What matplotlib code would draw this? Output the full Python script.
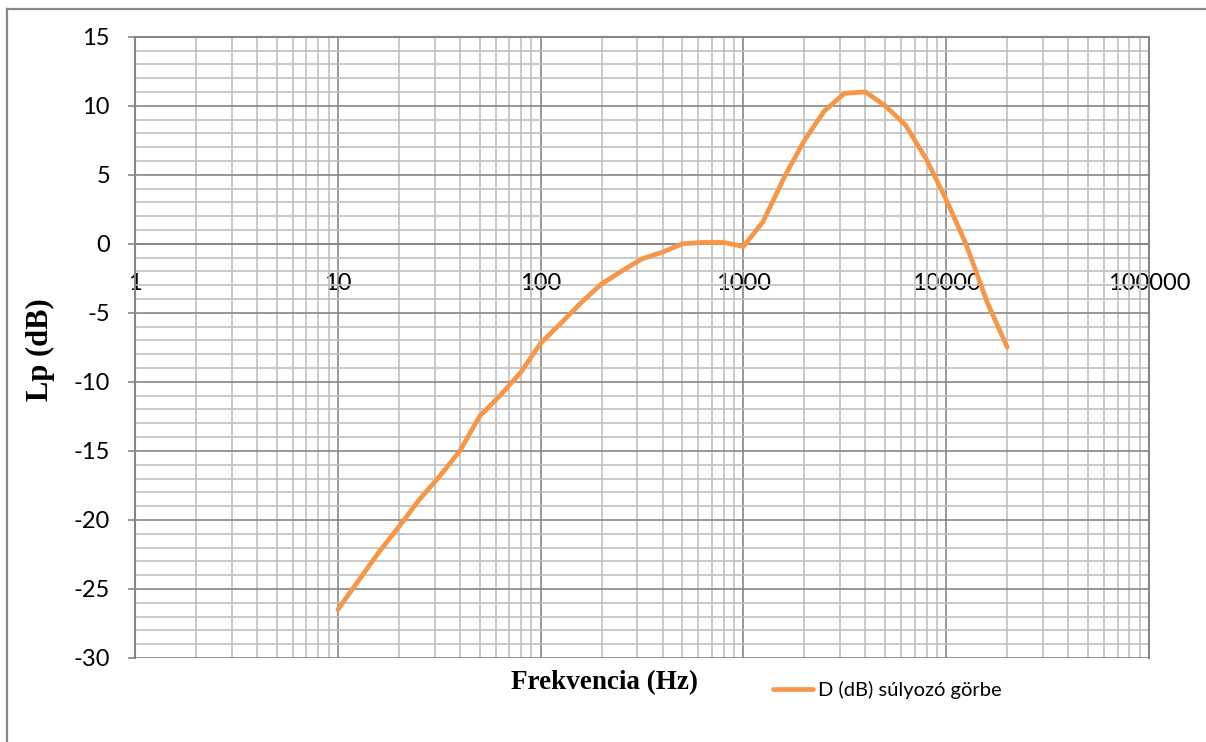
#!/usr/bin/env python3
import matplotlib
matplotlib.use("Agg")
import matplotlib.pyplot as plt
from matplotlib.lines import Line2D
from matplotlib.ticker import LogLocator, MultipleLocator, NullFormatter

# third-octave frequencies (Hz) and D weighting (dB)
freq = [10, 12.5, 16, 20, 25, 31.5, 40, 50, 63, 80, 100, 125, 160, 200, 250,
        315, 400, 500, 630, 800, 1000, 1250, 1600, 2000, 2500, 3150, 4000,
        5000, 6300, 8000, 10000, 12500, 16000, 20000]
d_weight = [-26.5, -24.5, -22.3, -20.5, -18.6, -16.9, -15.0, -12.5, -11.0,
            -9.3, -7.2, -5.8, -4.2, -2.9, -2.0, -1.1, -0.6, 0.0, 0.1, 0.1,
            -0.2, 1.6, 4.9, 7.5, 9.6, 10.9, 11.0, 10.0, 8.6, 6.1, 3.2, 0.0,
            -4.3, -7.5]

x_ticks = [1, 10, 100, 1000, 10000, 100000]
x_tick_labels = ["1", "10", "100", "1000", "10000", "100000"]
y_ticks = [15, 10, 5, 0, -5, -10, -15, -20, -25, -30]

series_name = "D (dB) súlyozó görbe"
x_title = "Frekvencia (Hz)"
y_title = "Lp (dB)"

major_c = "#868686"
minor_c = "#C0C0C0"
orange = "#F79646"
sans = ["Lato", "DejaVu Sans"]
serif = ["Liberation Serif", "DejaVu Serif"]

plt.rcParams["axes.unicode_minus"] = False

W, H = 1206, 742
fig = plt.figure(figsize=(W / 100, H / 100), dpi=100)
ax = fig.add_axes([135 / W, 1 - 658 / H, (1149 - 135) / W, (658 - 36.7) / H])

ax.set_xscale("log")
ax.set_xlim(1, 100000)
ax.set_ylim(-30, 15)

ax.plot(freq, d_weight, color=orange, lw=3.4, solid_joinstyle="round",
        solid_capstyle="round", zorder=5, label=series_name)

# grid
ax.set_xticks(x_ticks)
ax.set_xticklabels(x_tick_labels)
ax.xaxis.set_minor_locator(LogLocator(base=10, subs=range(2, 10)))
ax.xaxis.set_minor_formatter(NullFormatter())
ax.set_yticks(y_ticks)
ax.yaxis.set_minor_locator(MultipleLocator(1))
ax.grid(True, which="major", color=major_c, lw=1.2, zorder=1)
ax.grid(True, which="minor", color=minor_c, lw=1.2, zorder=0)
ax.set_axisbelow(True)

# x axis crosses at y = 0, like in the spreadsheet chart
for s in ["left", "right", "top"]:
    ax.spines[s].set_color(major_c)
    ax.spines[s].set_linewidth(1.5)
ax.spines["bottom"].set_position(("data", 0))
ax.spines["bottom"].set_color(major_c)
ax.spines["bottom"].set_linewidth(1.2)

ax.tick_params(axis="x", which="both", length=0, pad=21)
ax.tick_params(axis="y", which="major", length=5, width=1.2, color=major_c,
               pad=13)
ax.tick_params(axis="y", which="minor", length=0)
for lab in ax.get_xticklabels() + ax.get_yticklabels():
    lab.set_family(sans)
    lab.set_fontsize(17)
    lab.set_color("black")

fig.text(40 / W, 1 - 350 / H, y_title, rotation=90, ha="center", va="center",
         family=serif, fontweight="bold", fontsize=22)
fig.text(604 / W, 1 - 683 / H, x_title, ha="center", va="center",
         family=serif, fontweight="bold", fontsize=19.5)

leg = ax.legend(loc="center left", bbox_to_anchor=(773 / W, 1 - 690 / H),
                bbox_transform=fig.transFigure, frameon=False, borderpad=0,
                borderaxespad=0, handlelength=2.0, handletextpad=0.25,
                prop={"family": sans, "size": 14.5})

# chart area border (top and left edges show in the picture)
fig.add_artist(Line2D([7 / W, 7 / W], [0, 1 - 9 / H], color=major_c, lw=1.6,
                      transform=fig.transFigure))
fig.add_artist(Line2D([7 / W, 1], [1 - 9 / H, 1 - 9 / H], color=major_c,
                      lw=1.6, transform=fig.transFigure))

fig.savefig("out.png", dpi=100)
